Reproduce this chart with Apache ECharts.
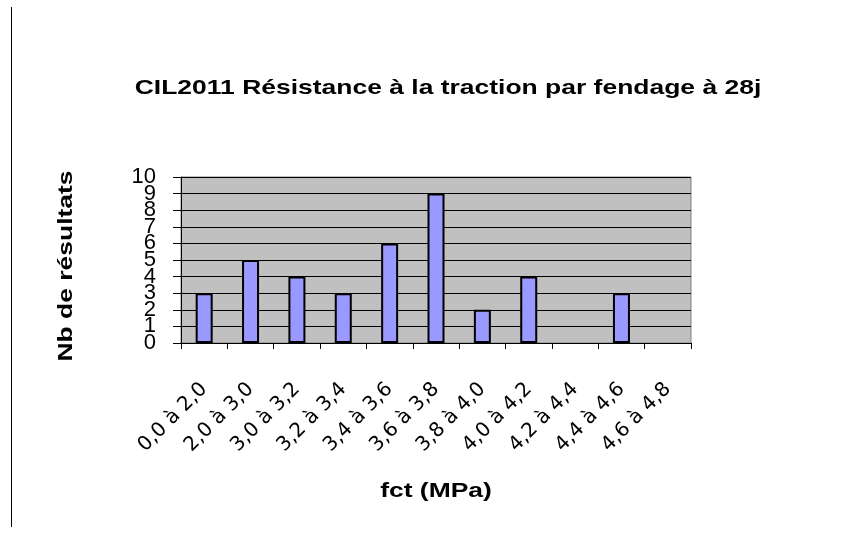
<!DOCTYPE html>
<html>
<head>
<meta charset="utf-8">
<script src="https://cdn.jsdelivr.net/npm/echarts@6/dist/echarts.min.js"></script>
<style>
html,body{margin:0;padding:0;background:#fff;}
#c{width:847px;height:538px;}
#line{position:absolute;left:11px;top:7px;width:1px;height:520px;background:#000;}
</style>
</head>
<body>
<div id="line"></div>
<div id="c"></div>
<script>
const categories = ["0,0 à 2,0","2,0 à 3,0","3,0 à 3,2","3,2 à 3,4","3,4 à 3,6","3,6 à 3,8","3,8 à 4,0","4,0 à 4,2","4,2 à 4,4","4,4 à 4,6","4,6 à 4,8"];
const counts = [3,5,4,3,6,9,2,4,0,3,0];
const yTicks = [0,1,2,3,4,5,6,7,8,9,10];
const titleText = "CIL2011 Résistance à la traction par fendage à 28j";
const xName = "fct (MPa)";
const yName = "Nb de résultats";

const boldFont = 'bold 21px "Liberation Sans", Arial, sans-serif';
const yLabelBase = {margin: 25, showMinLabel: true, showMaxLabel: true, hideOverlap: false,
  fontFamily: 'Liberation Sans, Arial', fontSize: 22, color: '#000'};
const chart = echarts.init(document.getElementById('c'), null, {renderer:'canvas'});
chart.setOption({
  backgroundColor: 'transparent',
  animation: false,
  graphic: [
    {type: 'text', x: 448, y: 88, scaleX: 1.26,
      style: {text: titleText, font: boldFont, fill: '#000', align: 'center', verticalAlign: 'middle'}},
    {type: 'text', x: 66, y: 266, rotation: Math.PI/2, scaleX: 1.26,
      style: {text: yName, font: boldFont, fill: '#000', align: 'center', verticalAlign: 'middle'}},
    {type: 'text', x: 436, y: 491, scaleX: 1.26,
      style: {text: xName, font: boldFont, fill: '#000', align: 'center', verticalAlign: 'middle'}}
  ],
  grid: {left: 181, top: 177, width: 510, height: 166, containLabel: false,
    show: true, backgroundColor: '#c0c0c0', borderColor: '#808080', borderWidth: 1},
  xAxis: {
    type: 'category', data: categories,
    axisLine: {show: true, lineStyle: {color: '#000', width: 1}},
    axisTick: {show: true, alignWithLabel: false, length: 6, lineStyle: {color: '#000'}},
    axisLabel: {interval: 0, rotate: 45, margin: 43, fontFamily: 'DejaVu Sans', fontSize: 20, color: '#000'},
    splitLine: {show: false}
  },
  yAxis: [{
    type: 'value', min: 0, max: 10, interval: 1, position: 'left',
    axisLine: {show: true, lineStyle: {color: '#000', width: 1}},
    axisTick: {show: true, length: 8, lineStyle: {color: '#000'}},
    axisLabel: Object.assign({}, yLabelBase, {
      formatter: v => (yTicks.includes(v) && v % 2 === 0) ? String(v) : ''}),
    splitLine: {show: true, lineStyle: {color: '#000', width: 1}}
  }, {
    type: 'value', min: 0, max: 10, interval: 1, position: 'left', offset: 0,
    axisLine: {show: false}, axisTick: {show: false}, splitLine: {show: false},
    axisLabel: Object.assign({}, yLabelBase, {
      formatter: v => (yTicks.includes(v) && v % 2 === 1) ? String(v) : ''})
  }],
  series: [{
    type: 'bar', barWidth: 17, yAxisIndex: 0,
    data: counts.map(v => ({value: v, itemStyle: {borderWidth: v === 0 ? 0 : 2}})),
    itemStyle: {color: '#9999ff', borderColor: '#000', borderWidth: 2}
  }]
});
</script>
</body>
</html>
